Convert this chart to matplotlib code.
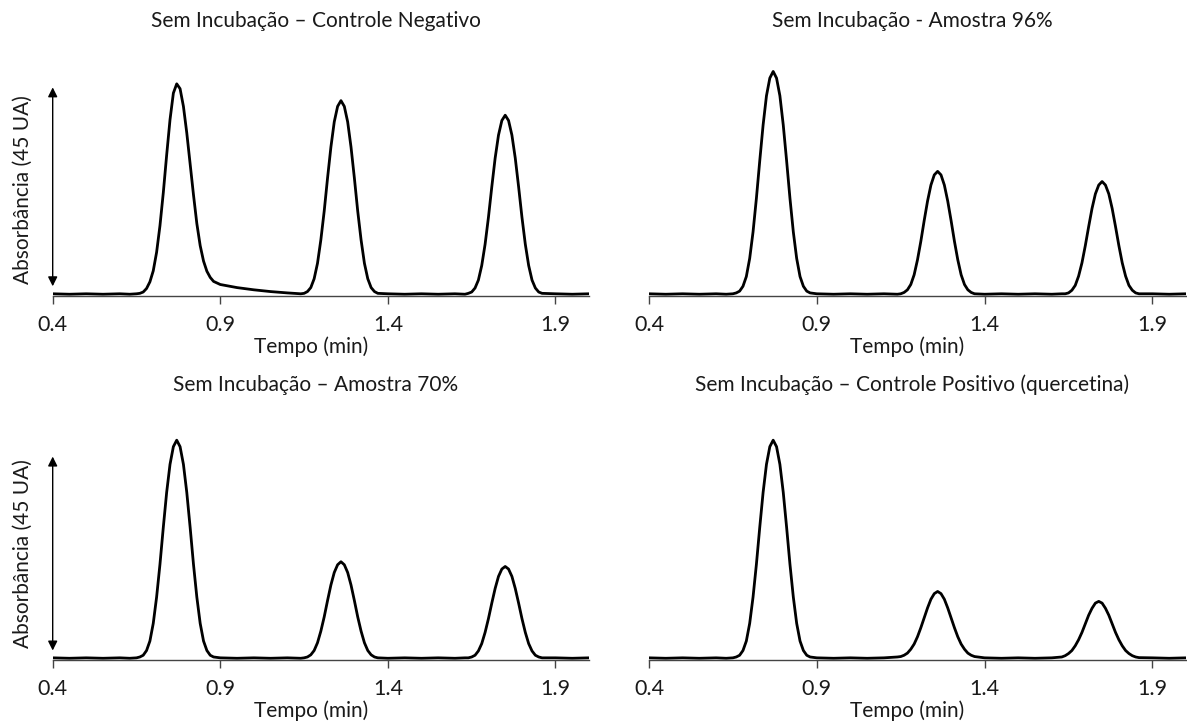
import matplotlib
matplotlib.use("Agg")
import matplotlib.pyplot as plt
import numpy as np

plt.rcParams['font.family'] = ['Lato', 'DejaVu Sans']

# tempo (min): common sampling grid, denser around the three peaks
t_pre = [0.40, 0.45, 0.50, 0.55, 0.60, 0.63, 0.65]
t_pk1 = [0.66, 0.67, 0.68, 0.69, 0.70, 0.71, 0.72, 0.73, 0.74, 0.75, 0.76, 0.77,
         0.78, 0.79, 0.80, 0.81, 0.82, 0.83, 0.84, 0.85, 0.86, 0.87, 0.88]
t_mid1 = [0.90, 0.95, 1.00, 1.05, 1.10, 1.14]
t_pk2 = [1.15, 1.16, 1.17, 1.18, 1.19, 1.20, 1.21, 1.22, 1.23, 1.24, 1.25, 1.26,
         1.27, 1.28, 1.29, 1.30, 1.31, 1.32, 1.33, 1.34, 1.35, 1.36, 1.37]
t_mid2 = [1.40, 1.45, 1.50, 1.55, 1.60, 1.63]
t_pk3 = [1.64, 1.65, 1.66, 1.67, 1.68, 1.69, 1.70, 1.71, 1.72, 1.73, 1.74, 1.75,
         1.76, 1.77, 1.78, 1.79, 1.80, 1.81, 1.82, 1.83, 1.84, 1.85, 1.86]
t_end = [1.90, 1.95, 2.00]
tempo = t_pre + t_pk1 + t_mid1 + t_pk2 + t_mid2 + t_pk3 + t_end

# absorbance (UA)
controle_neg = ([0.1, 0.0, 0.1, 0.0, 0.1, 0.0, 0.1]
    + [0.2, 0.5, 1.3, 2.8, 5.3, 9.5, 15.5, 23.0, 31.5, 39.5, 45.5, 47.6,
       46.5, 42.5, 36.5, 29.5, 22.5, 16.0, 11.0, 7.5, 5.2, 3.8, 2.9]
    + [2.2, 1.5, 1.0, 0.6, 0.3, 0.1]
    + [0.2, 0.6, 1.5, 3.5, 7.0, 12.3, 18.8, 26.3, 33.3, 39.0, 42.5, 43.8,
       42.5, 39.0, 33.3, 26.3, 18.8, 12.3, 7.0, 3.5, 1.5, 0.6, 0.2]
    + [0.1, 0.0, 0.1, 0.0, 0.1, 0.0]
    + [0.2, 0.5, 1.4, 3.2, 6.5, 11.3, 17.4, 24.3, 30.8, 36.0, 39.3, 40.5,
       39.3, 36.0, 30.8, 24.3, 17.4, 11.3, 6.5, 3.2, 1.4, 0.5, 0.2]
    + [0.1, 0.0, 0.1])

amostra_96 = ([0.1, 0.0, 0.1, 0.0, 0.1, 0.0, 0.1]
    + [0.3, 0.7, 1.8, 4.0, 8.1, 14.1, 21.7, 30.2, 38.3, 44.9, 48.9, 50.4,
       48.9, 44.9, 38.3, 30.2, 21.7, 14.1, 8.1, 4.0, 1.8, 0.7, 0.3]
    + [0.1, 0.0, 0.1, 0.0, 0.1, 0.0]
    + [0.1, 0.4, 1.0, 2.2, 4.4, 7.8, 12.0, 16.7, 21.1, 24.7, 27.0, 27.8,
       27.0, 24.7, 21.1, 16.7, 12.0, 7.8, 4.4, 2.2, 1.0, 0.4, 0.1]
    + [0.0, 0.1, 0.0, 0.1, 0.0, 0.1]
    + [0.1, 0.3, 0.9, 2.0, 4.1, 7.1, 11.0, 15.3, 19.4, 22.7, 24.7, 25.5,
       24.7, 22.7, 19.4, 15.3, 11.0, 7.1, 4.1, 2.0, 0.9, 0.3, 0.1]
    + [0.1, 0.0, 0.1])

amostra_70 = ([0.1, 0.0, 0.1, 0.0, 0.1, 0.0, 0.1]
    + [0.3, 0.7, 1.8, 4.0, 8.1, 14.2, 21.8, 30.4, 38.5, 45.0, 49.1, 50.6,
       49.1, 45.0, 38.5, 30.4, 21.8, 14.2, 8.1, 4.0, 1.8, 0.7, 0.3]
    + [0.1, 0.0, 0.1, 0.0, 0.1, 0.0]
    + [0.1, 0.3, 0.8, 1.8, 3.6, 6.3, 9.6, 13.4, 17.0, 19.9, 21.7, 22.4,
       21.7, 19.9, 17.0, 13.4, 9.6, 6.3, 3.6, 1.8, 0.8, 0.3, 0.1]
    + [0.0, 0.1, 0.0, 0.1, 0.0, 0.1]
    + [0.1, 0.3, 0.7, 1.7, 3.4, 6.0, 9.2, 12.8, 16.2, 19.0, 20.7, 21.3,
       20.7, 19.0, 16.2, 12.8, 9.2, 6.0, 3.4, 1.7, 0.7, 0.3, 0.1]
    + [0.1, 0.0, 0.1])

controle_pos = ([0.1, 0.0, 0.1, 0.0, 0.1, 0.0, 0.1]
    + [0.3, 0.7, 1.8, 4.0, 8.1, 14.2, 21.8, 30.4, 38.5, 45.0, 49.1, 50.6,
       49.1, 45.0, 38.5, 30.4, 21.8, 14.2, 8.1, 4.0, 1.8, 0.7, 0.3]
    + [0.1, 0.0, 0.1, 0.0, 0.1, 0.3]
    + [0.4, 0.7, 1.2, 2.1, 3.3, 5.0, 7.1, 9.4, 11.7, 13.7, 15.0, 15.5,
       15.0, 13.7, 11.7, 9.4, 7.1, 5.0, 3.3, 2.1, 1.2, 0.7, 0.4]
    + [0.1, 0.0, 0.1, 0.0, 0.1, 0.3]
    + [0.6, 1.1, 1.8, 2.9, 4.3, 6.0, 8.0, 10.0, 11.6, 12.8, 13.2, 12.8,
       11.6, 10.0, 8.0, 6.0, 4.3, 2.9, 1.8, 1.1, 0.6, 0.3, 0.15]
    + [0.1, 0.0, 0.1])

titulos = ['Sem Incubação – Controle Negativo', 'Sem Incubação - Amostra 96%',
           'Sem Incubação – Amostra 70%', 'Sem Incubação – Controle Positivo (quercetina)']
series = [controle_neg, amostra_96, amostra_70, controle_pos]
xticks = [0.4, 0.9, 1.4, 1.9]

W, H = 1187, 727
fig = plt.figure(figsize=(W / 100, H / 100), dpi=100)
txt = '#1a1a1a'

# pixel layout: (left, right, baseline y, top y, px per UA)
layout = [(52.7, 589, 296, 60, 4.42), (649, 1186, 296, 60, 4.42),
          (52.7, 589, 660, 425, 4.31), (649, 1186, 660, 425, 4.31)]

for i, (titulo, y) in enumerate(zip(titulos, series)):
    x0, x1, yb, yt, s = layout[i]
    ax = fig.add_axes([x0 / W, (H - yb) / H, (x1 - x0) / W, (yb - yt) / H])
    ax.plot(tempo, y, color='black', lw=2.0, solid_joinstyle='round')
    ax.set_xlim(0.4, 2.0)
    ax.set_ylim(-0.4, (yb - yt) / s - 0.4)
    for side in ['top', 'right', 'left']:
        ax.spines[side].set_visible(False)
    ax.spines['bottom'].set_color('#444444')
    ax.spines['bottom'].set_linewidth(1.0)
    ax.set_yticks([])
    ax.set_xticks(xticks)
    ax.set_xticklabels(['%.1f' % v for v in xticks])
    ax.tick_params(axis='x', direction='out', length=6, width=1, color='#444444',
                   labelsize=15.5, labelcolor=txt, pad=8)
    xc = (x0 + x1) / 2
    fig.text((xc - 5) / W, 1 - 21 / H if i < 2 else 1 - 385 / H, titulo,
             ha='center', va='center', fontsize=15, color=txt)
    fig.text((xc - 10) / W, 1 - (yb + 51) / H, 'Tempo (min)',
             ha='center', va='center', fontsize=15, color=txt)
    if i % 2 == 0:
        ax.annotate('', xy=(0.4, 46.8), xytext=(0.4, 1.8),
                    arrowprops=dict(arrowstyle='<|-|>', color='black', lw=1.0,
                                    mutation_scale=14, shrinkA=0, shrinkB=0))
        fig.text(23 / W, 1 - (yb - 106) / H, 'Absorbância (45 UA)', rotation=90,
                 ha='center', va='center', fontsize=15, color=txt)

fig.savefig('out.png', dpi=100)
